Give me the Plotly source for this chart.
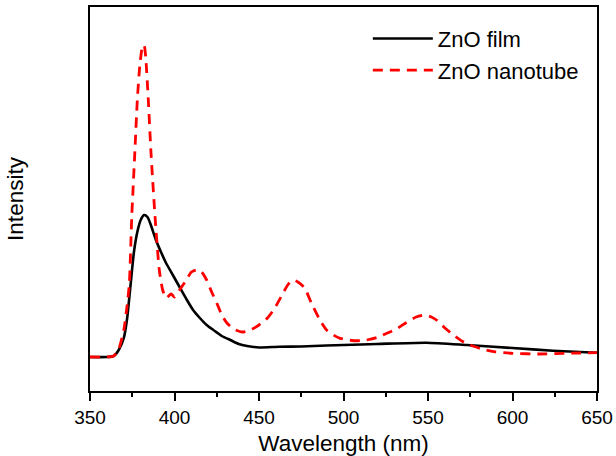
import plotly.graph_objects as go

# Wavelength (nm) and intensity (a.u.)
film_wl = [350, 360, 364, 367, 370, 372, 374, 376, 378, 380, 382, 384, 386, 389, 392, 395,
           399, 403, 407, 411, 415, 419, 423, 428, 433, 438, 443, 450, 462, 475, 490, 500,
           520, 549, 573, 600, 624, 650]
film_int = [34, 34, 35, 41, 53, 73, 106, 139, 159, 171, 176, 174, 166, 151, 139, 128,
            116, 104, 92, 81, 73, 66, 61, 55, 51, 47, 45, 43.5, 44.3, 44.5, 45.5, 46,
            47, 48.3, 46, 43, 40.3, 38.3]

tube_wl = [350, 360, 364, 367, 370, 372, 373.3, 374.7, 376.6, 378, 379.5, 381, 382, 383,
           384.5, 386, 388.5, 391, 393, 395, 398, 400, 403, 407, 410, 413, 416, 419, 422,
           425, 428, 431, 435, 440, 445, 450, 455, 459, 463, 467, 470, 473, 477, 481, 486,
           490, 494, 498, 505, 510, 515, 520, 526, 531, 537, 543, 548, 552, 555, 560, 565,
           570, 575, 582, 589, 600, 616, 632, 650]
tube_int = [34, 34, 35, 42, 61, 86, 108, 174, 241, 291, 326, 344, 346, 333,
            291, 241, 174, 121, 101, 93, 97, 94, 101, 111, 119, 121, 119, 111, 99,
            88, 76, 68, 62, 59, 61, 66, 73, 82, 94, 106, 111, 109, 103, 88, 71,
            61, 56, 52.7, 50.5, 50.3, 51.5, 53.7, 58, 61.7, 68.3, 74, 76, 74, 71, 63, 56,
            50, 46, 42, 39.3, 37.7, 37, 37.7, 38.3]

x_ticks = [350, 400, 450, 500, 550, 600, 650]

FONT = "Liberation Sans, Arial, sans-serif"

fig = go.Figure()
fig.add_trace(go.Scatter(x=film_wl, y=film_int, mode="lines", name="ZnO film",
                         line=dict(color="black", width=2.6, shape="spline", smoothing=0.6)))
fig.add_trace(go.Scatter(x=tube_wl, y=tube_int, mode="lines", name="ZnO nanotube",
                         line=dict(color="#ff0000", width=2.8, dash="10px,7px",
                                   shape="spline", smoothing=0.6)))

fig.update_layout(
    width=616, height=456,
    margin=dict(l=90, r=19, t=7, b=65),
    paper_bgcolor="white", plot_bgcolor="white",
    font=dict(family=FONT, color="black"),
    showlegend=True,
    legend=dict(x=0.548, y=0.972, xanchor="left", yanchor="top",
                bgcolor="rgba(0,0,0,0)", borderwidth=0,
                font=dict(size=22, family=FONT), itemwidth=60,
                tracegroupgap=0),
    xaxis=dict(range=[350, 650], tickvals=x_ticks, ticktext=[str(v) for v in x_ticks],
               showline=True, linecolor="black", linewidth=2, mirror=True,
               ticks="outside", ticklen=8, tickwidth=1.5, tickcolor="black",
               minor=dict(dtick=25, tick0=350, ticks="outside", ticklen=4, tickwidth=1.5, tickcolor="black"),
               showgrid=False, zeroline=False, automargin=False,
               tickfont=dict(size=19, family=FONT),
               title=dict(text="Wavelength (nm)", font=dict(size=22.5, family=FONT), standoff=8)),
    yaxis=dict(range=[0, 384], showline=True, linecolor="black", linewidth=2, mirror=True,
               showticklabels=False, ticks="", showgrid=False, zeroline=False, automargin=False,
               title=dict(text="Intensity", font=dict(size=22.5, family=FONT), standoff=58)),
)

fig.write_html("out.html")
